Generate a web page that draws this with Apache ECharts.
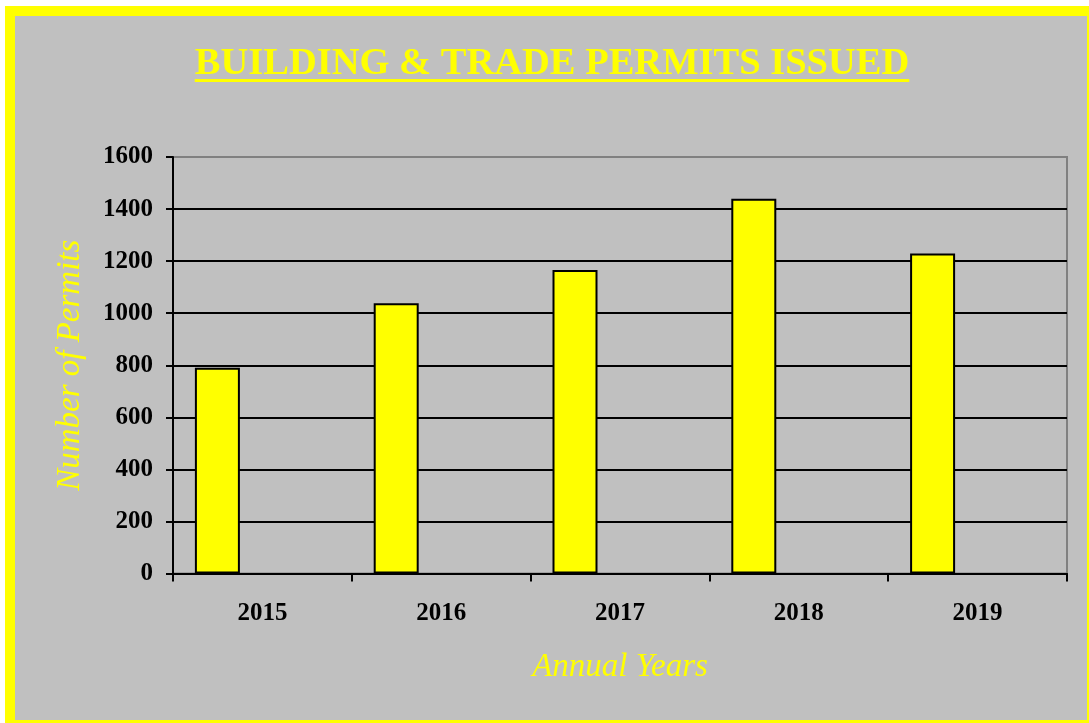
<!DOCTYPE html>
<html>
<head>
<meta charset="utf-8">
<script src="https://cdn.jsdelivr.net/npm/echarts@6/dist/echarts.min.js"></script>
<style>
html,body{margin:0;padding:0;background:#fff;}
#c{width:1089px;height:723px;}
</style>
</head>
<body>
<div id="c"></div>
<script>
const titleText = 'BUILDING & TRADE PERMITS ISSUED';
const categories = ['2015', '2016', '2017', '2018', '2019'];
const permits = [790, 1038, 1166, 1440, 1229];
// Empty slots of the original clustered layout (only the first series holds data)
const emptySlotA = [null, null, null, null, null];
const emptySlotB = [null, null, null, null, null];
const yMin = 0, yMax = 1600, yInterval = 200;

const serif = '"Liberation Serif", "Times New Roman", serif';
const titleFont = 'bold 38.5px ' + serif;

function measure(font, text) {
  const cv = document.createElement('canvas');
  const ctx = cv.getContext('2d');
  ctx.font = font;
  return ctx.measureText(text).width;
}
const titleW = measure('bold 38.5px "Liberation Serif"', titleText);
const titleCx = 552;

const chart = echarts.init(document.getElementById('c'));
const barStyle = { color: '#FFFF00', borderColor: '#000', borderWidth: 2 };
chart.setOption({
  backgroundColor: '#fff',
  animation: false,
  graphic: [
    { type: 'rect', z: -10, silent: true,
      shape: { x: 10, y: 11, width: 1082, height: 714 },
      style: { fill: '#C0C0C0', stroke: '#FFFF00', lineWidth: 10 } },
    { type: 'text', z: 10, x: titleCx, y: 64,
      style: { text: titleText, font: titleFont, fill: '#FFFF00', textAlign: 'center', textVerticalAlign: 'middle' } },
    { type: 'rect', z: 10, silent: true,
      shape: { x: titleCx - titleW / 2, y: 79, width: titleW, height: 3 },
      style: { fill: '#FFFF00' } }
  ],
  grid: {
    left: 173, right: 22, top: 157, bottom: 149.5,
    show: true, borderColor: '#808080', borderWidth: 2, backgroundColor: 'transparent',
    containLabel: false, outerBoundsMode: 'none'
  },
  xAxis: {
    type: 'category',
    data: categories,
    boundaryGap: true,
    name: 'Annual Years',
    nameLocation: 'middle',
    nameGap: 77,
    nameTextStyle: { color: '#FFFF00', fontFamily: serif, fontStyle: 'italic', fontSize: 33 },
    axisLine: { lineStyle: { color: '#000', width: 2 } },
    axisTick: { show: true, length: 8, lineStyle: { color: '#000', width: 2 } },
    axisLabel: { color: '#000', fontFamily: serif, fontWeight: 'bold', fontSize: 25, margin: 28 },
    splitLine: { show: false }
  },
  yAxis: {
    type: 'value',
    min: yMin, max: yMax, interval: yInterval,
    name: 'Number of Permits',
    nameLocation: 'middle',
    nameGap: 86,
    nameTextStyle: { color: '#FFFF00', fontFamily: serif, fontStyle: 'italic', fontSize: 33 },
    axisLine: { show: true, lineStyle: { color: '#000', width: 2 } },
    axisTick: { show: true, length: 7, lineStyle: { color: '#000', width: 2 } },
    axisLabel: { color: '#000', fontFamily: serif, fontWeight: 'bold', fontSize: 25, margin: 20,
      formatter: function (v) { return String(v); } },
    splitLine: { show: true, showMaxLine: false, showMinLine: false, lineStyle: { color: '#000', width: 2 } }
  },
  series: [
    { type: 'bar', name: 'Permits', data: permits, barWidth: 45, barGap: '0%', itemStyle: barStyle },
    { type: 'bar', name: 'slotA', data: emptySlotA, barWidth: 45, barGap: '0%', itemStyle: barStyle },
    { type: 'bar', name: 'slotB', data: emptySlotB, barWidth: 45, barGap: '0%', itemStyle: barStyle }
  ]
});
</script>
</body>
</html>
